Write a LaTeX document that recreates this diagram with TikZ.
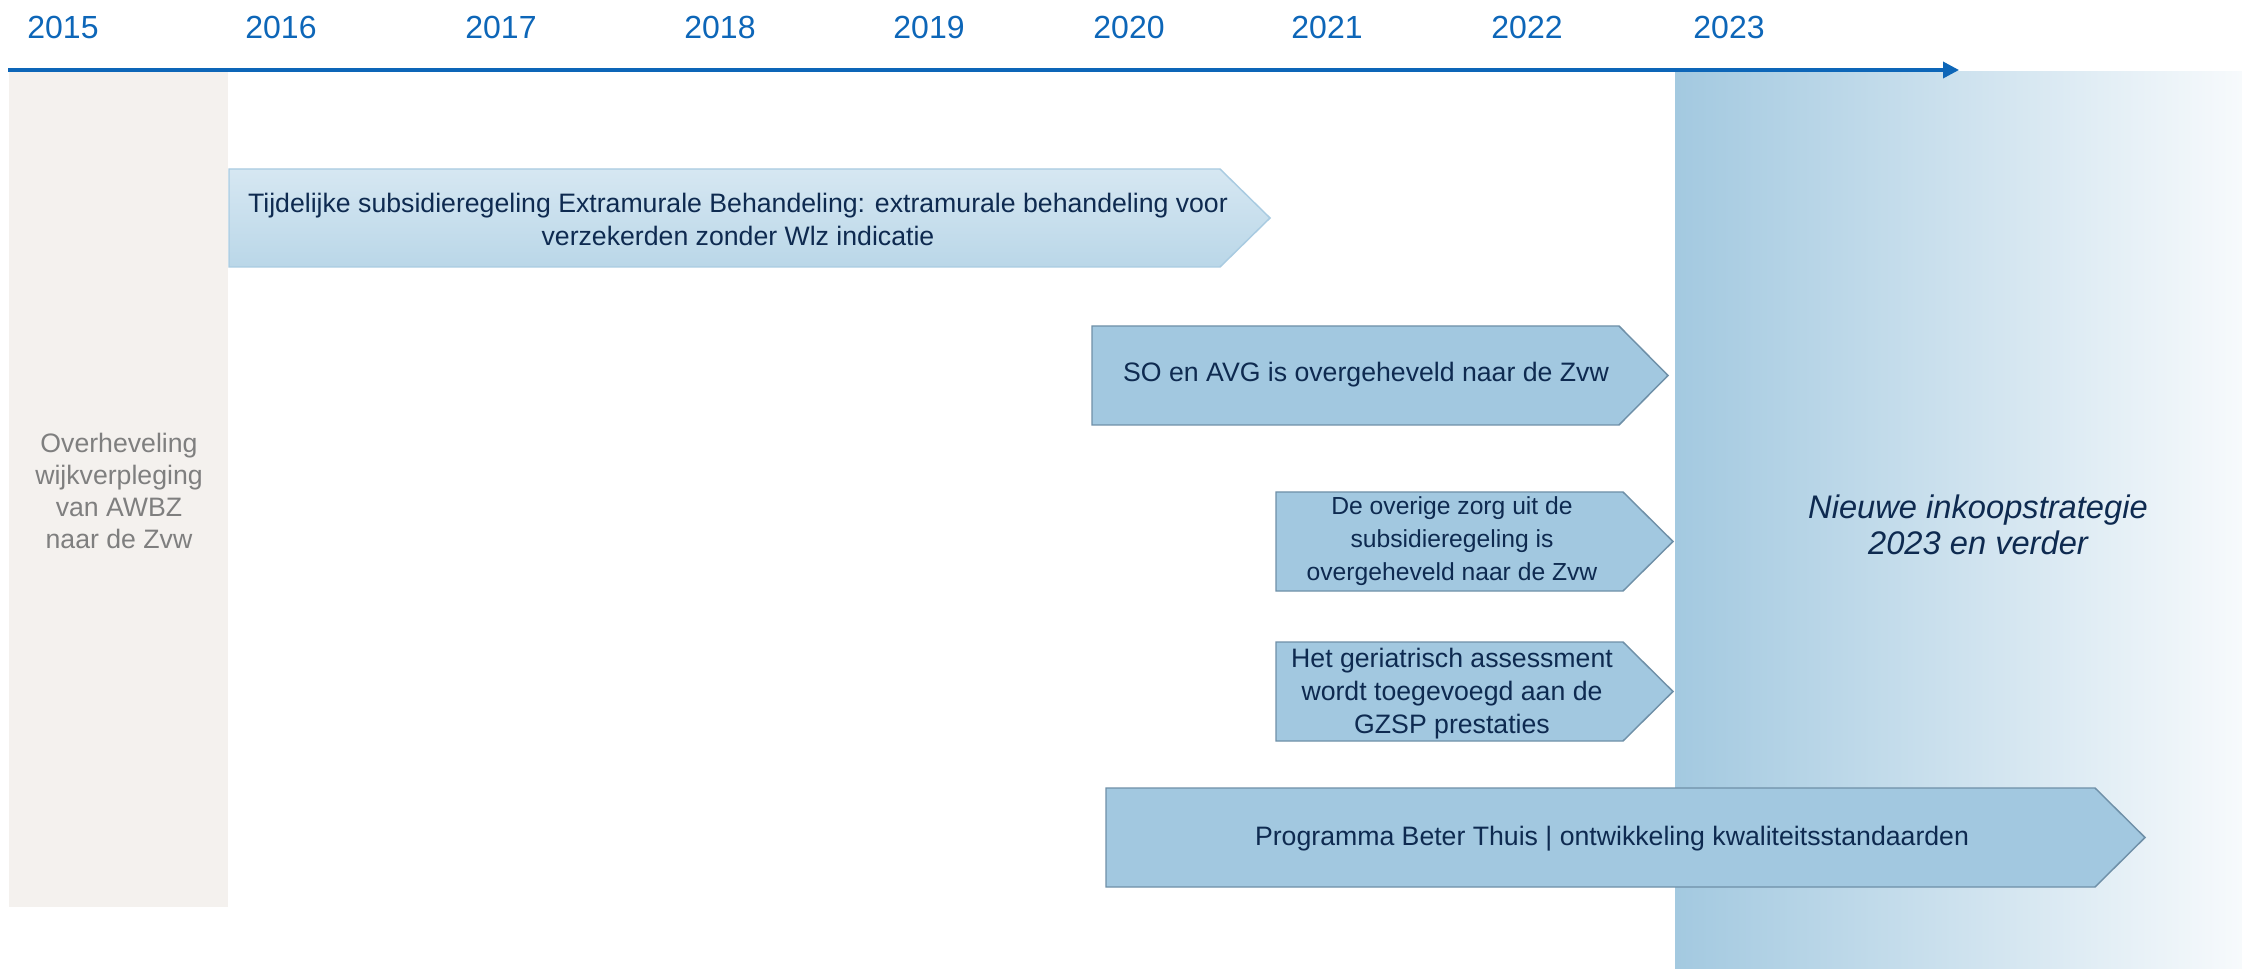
\documentclass[tikz,border=0pt]{standalone}
\usepackage{fontspec}
\setmainfont{Liberation Sans}
\usetikzlibrary{arrows.meta}
\definecolor{yearblue}{HTML}{0D66B8}
\definecolor{greybox}{HTML}{F4F1EE}
\definecolor{greytext}{HTML}{7F7F7F}
\definecolor{navy}{HTML}{0E2A50}
\definecolor{arrfill}{HTML}{A2C8E0}
\definecolor{arrdraw}{HTML}{6F90A8}
\definecolor{lighttop}{HTML}{D6E7F2}
\definecolor{lightbot}{HTML}{BAD7E8}
\definecolor{lightdraw}{HTML}{A9CBE1}
\definecolor{gradL}{HTML}{A3C9E0}
\definecolor{gradR}{HTML}{F7FAFC}
\tikzset{
  yearlbl/.style={text=yearblue,font=\fontsize{24}{28}\selectfont,inner sep=0pt},
  axisline/.style={draw=yearblue,line width=2.6pt,-{Triangle[length=12pt,width=12pt]}},
  arrowbox/.style={fill=arrfill,draw=arrdraw,line width=1.1pt,line join=miter},
  lightbox/.style={top color=lighttop,bottom color=lightbot,draw=lightdraw,line width=1.1pt},
  boxtext/.style={text=navy,font=\fontsize{20}{24.75}\selectfont,align=center,inner sep=0pt},
  smalltext/.style={text=navy,font=\fontsize{18.5}{24.75}\selectfont,align=center,inner sep=0pt},
  greylbl/.style={text=greytext,font=\fontsize{20}{23.8}\selectfont,align=center,inner sep=0pt},
  bigital/.style={text=navy,font=\fontsize{24.5}{27}\selectfont\itshape,align=center,inner sep=0pt}
}
\begin{document}
\begin{tikzpicture}[x=0.75pt,y=-0.75pt]
\useasboundingbox (0,0) rectangle (2242,969);
\fill[white] (0,0) rectangle (2242,969);
% grey 2015 column
\fill[greybox] (9,72) rectangle (228,907);
\node[greylbl] (awbz) at (119,491) {Overheveling\\wijkverpleging\\van AWBZ\\naar de Zvw};
% right gradient region
\shade[left color=gradL,right color=gradR] (1675,72) rectangle (2242,969);
\node[bigital] (nieuw) at (1978,525) {Nieuwe inkoopstrategie\\2023 en verder};
% arrow 1
\path[lightbox] (229,169) -- (1220,169) -- (1270,218) -- (1220,267) -- (229,267) -- cycle;
\node[boxtext] (tijd) at (738,219) {Tijdelijke subsidieregeling Extramurale Behandeling: extramurale behandeling voor\\verzekerden zonder Wlz indicatie};
% arrow 2
\path[arrowbox] (1092,326) -- (1619,326) -- (1668,375.5) -- (1619,425) -- (1092,425) -- cycle;
\node[boxtext] (soavg) at (1366,375) {SO en AVG is overgeheveld naar de Zvw};
% arrow 3
\path[arrowbox] (1276,492) -- (1623,492) -- (1673,541.5) -- (1623,591) -- (1276,591) -- cycle;
\node[smalltext] (overig) at (1452,541) {De overige zorg uit de\\subsidieregeling is\\overgeheveld naar de Zvw};
% arrow 4
\path[arrowbox] (1276,642) -- (1623,642) -- (1673,691.5) -- (1623,741) -- (1276,741) -- cycle;
\node[boxtext] (geria) at (1452,694) {Het geriatrisch assessment\\wordt toegevoegd aan de\\GZSP prestaties};
% arrow 5
\path[arrowbox] (1106,788) -- (2095,788) -- (2145,837.5) -- (2095,887) -- (1106,887) -- cycle;
\node[boxtext] (beter) at (1612,839) {Programma Beter Thuis | ontwikkeling kwaliteitsstandaarden};
% axis
\coordinate (axstart) at (8,70);
\coordinate (axend) at (1959,70);
\draw[axisline] (axstart) -- (axend);
% years
\node[yearlbl] (y2015) at (63,27) {2015};
\node[yearlbl] (y2016) at (281,27) {2016};
\node[yearlbl] (y2017) at (501,27) {2017};
\node[yearlbl] (y2018) at (720,27) {2018};
\node[yearlbl] (y2019) at (929,27) {2019};
\node[yearlbl] (y2020) at (1129,27) {2020};
\node[yearlbl] (y2021) at (1327,27) {2021};
\node[yearlbl] (y2022) at (1527,27) {2022};
\node[yearlbl] (y2023) at (1729,27) {2023};
\end{tikzpicture}
\end{document}
